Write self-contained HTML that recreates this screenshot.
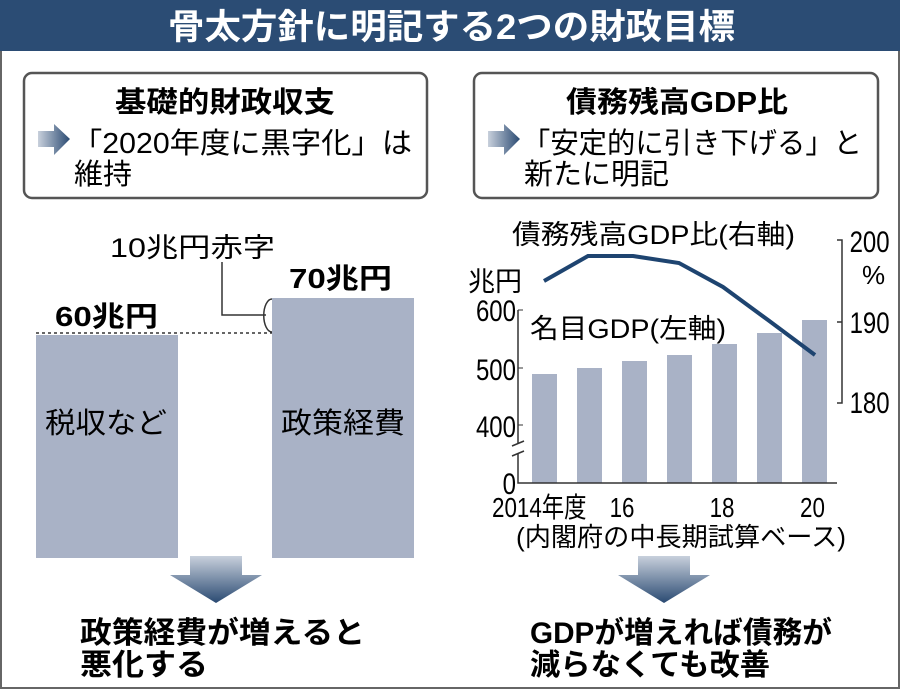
<!DOCTYPE html>
<html><head><meta charset="utf-8"><style>
body{margin:0;width:900px;height:689px;background:#fff;overflow:hidden;font-family:"Liberation Sans","Noto Sans CJK JP",sans-serif;}
svg text{font-family:"Liberation Sans","Noto Sans CJK JP",sans-serif;}
</style></head><body>
<svg width="900" height="689" viewBox="0 0 900 689" xmlns="http://www.w3.org/2000/svg">
<defs>
<linearGradient id="ar" x1="0" x2="1"><stop offset="0" stop-color="#c8d0dc"/><stop offset="1" stop-color="#2a4a72"/></linearGradient>
<linearGradient id="dn" x1="0" x2="0" y1="0" y2="1"><stop offset="0" stop-color="#c8d0dc"/><stop offset="1" stop-color="#2a4a72"/></linearGradient>
</defs>
<rect x="1" y="1" width="898" height="687" fill="#fff" stroke="#666" stroke-width="2"/>
<rect x="0" y="0" width="900" height="51" fill="#2b4c74"/>
<text x="168" y="39" font-size="35" font-weight="bold" fill="#fff" textLength="567" lengthAdjust="spacingAndGlyphs">骨太方針に明記する2つの財政目標</text>

<rect x="24" y="73" width="403" height="125" rx="8" fill="#fff" stroke="#555" stroke-width="2.5"/>
<text x="115" y="112" font-size="29" font-weight="bold" textLength="220" lengthAdjust="spacingAndGlyphs">基礎的財政収支</text>
<polygon points="38,131 54,131 54,124 70,139 54,155 54,147 38,147" fill="url(#ar)"/>
<text x="72" y="153" font-size="29" textLength="340" lengthAdjust="spacingAndGlyphs">「2020年度に黒字化」は</text>
<text x="74" y="184" font-size="29">維持</text>

<rect x="474" y="73" width="404" height="125" rx="8" fill="#fff" stroke="#555" stroke-width="2.5"/>
<text x="566" y="112" font-size="29" font-weight="bold" textLength="222" lengthAdjust="spacingAndGlyphs">債務残高GDP比</text>
<polygon points="488,131 504,131 504,124 520,139 504,155 504,147 488,147" fill="url(#ar)"/>
<text x="522" y="153" font-size="29" textLength="340" lengthAdjust="spacingAndGlyphs">「安定的に引き下げる」と</text>
<text x="524" y="184" font-size="29">新たに明記</text>

<!-- left chart -->
<text x="110" y="257" font-size="27" textLength="165" lengthAdjust="spacingAndGlyphs">10兆円赤字</text>
<polyline points="222,262 222,315 266,315" fill="none" stroke="#333" stroke-width="1.5"/>
<path d="M272,299 A8,16 0 0 0 272,332" fill="none" stroke="#333" stroke-width="1.5"/>
<text x="289" y="288" font-size="28" font-weight="bold" textLength="103" lengthAdjust="spacingAndGlyphs">70兆円</text>
<text x="55" y="326" font-size="28" font-weight="bold" textLength="103" lengthAdjust="spacingAndGlyphs">60兆円</text>
<line x1="36" y1="333" x2="272" y2="333" stroke="#333" stroke-width="1.5" stroke-dasharray="3,3"/>
<rect x="36" y="335" width="142" height="223" fill="#a9b2c6"/>
<rect x="272" y="298" width="142" height="260" fill="#a9b2c6"/>
<text x="45" y="433" font-size="29" textLength="122" lengthAdjust="spacingAndGlyphs">税収など</text>
<text x="281" y="433" font-size="29" textLength="124" lengthAdjust="spacingAndGlyphs">政策経費</text>
<polygon points="190,556 242,556 242,575 262,575 216,603 170,575 190,575" fill="url(#dn)"/>
<text x="80" y="643" font-size="30" font-weight="bold" textLength="285" lengthAdjust="spacingAndGlyphs">政策経費が増えると</text>
<text x="80" y="675" font-size="30" font-weight="bold" textLength="128" lengthAdjust="spacingAndGlyphs">悪化する</text>

<!-- right chart -->
<text x="512" y="244" font-size="27" textLength="283" lengthAdjust="spacingAndGlyphs">債務残高GDP比(右軸)</text>
<text x="468" y="291" font-size="27">兆円</text>
<g font-size="30" text-anchor="end" transform="scale(0.8,1)">
<text x="645" y="321">600</text>
<text x="645" y="380">500</text>
<text x="645" y="437">400</text>
<text x="645" y="494">0</text>
</g>
<g fill="#a9b2c6">
<rect x="532" y="374" width="25" height="109"/>
<rect x="577" y="368" width="25" height="115"/>
<rect x="622" y="361" width="25" height="122"/>
<rect x="667" y="355" width="25" height="128"/>
<rect x="712" y="344" width="25" height="139"/>
<rect x="757" y="333" width="25" height="150"/>
<rect x="802" y="320" width="25" height="163"/>
</g>
<polyline points="518,310 518,443" fill="none" stroke="#333" stroke-width="1.5"/>
<polyline points="518,453 518,483 837,483" fill="none" stroke="#333" stroke-width="1.5"/>
<line x1="512" y1="446" x2="524" y2="441" stroke="#333" stroke-width="1.5"/>
<line x1="512" y1="456" x2="524" y2="451" stroke="#333" stroke-width="1.5"/>
<line x1="518" y1="310" x2="523" y2="310" stroke="#333"/>
<line x1="518" y1="368" x2="523" y2="368" stroke="#333"/>
<line x1="518" y1="425" x2="523" y2="425" stroke="#333"/>
<text x="530" y="338" font-size="27" textLength="196" lengthAdjust="spacingAndGlyphs">名目GDP(左軸)</text>
<polyline points="544,281 588,256 633,256 679,263 723,287 768,320 815,355" fill="none" stroke="#1e4470" stroke-width="4"/>
<polyline points="837,240 842,240 842,403 837,403" fill="none" stroke="#333" stroke-width="1.5"/>
<line x1="837" y1="322" x2="842" y2="322" stroke="#333" stroke-width="1.5"/>
<g font-size="30" transform="scale(0.8,1)">
<text x="1062" y="252">200</text>
<text x="1062" y="333">190</text>
<text x="1062" y="413">180</text>
</g>
<text x="862" y="284" font-size="26">%</text>
<g font-size="28" transform="scale(0.8,1)">
<text x="615" y="517">2014年度</text>
<text x="762" y="517">16</text>
<text x="887" y="517">18</text>
<text x="1000" y="517">20</text>
</g>
<text x="516" y="546" font-size="26" textLength="330" lengthAdjust="spacingAndGlyphs">(内閣府の中長期試算ベース)</text>
<polygon points="638,556 690,556 690,575 710,575 664,603 618,575 638,575" fill="url(#dn)"/>
<text x="530" y="643" font-size="30" font-weight="bold" textLength="302" lengthAdjust="spacingAndGlyphs">GDPが増えれば債務が</text>
<text x="530" y="675" font-size="30" font-weight="bold" textLength="240" lengthAdjust="spacingAndGlyphs">減らなくても改善</text>
</svg>
</body></html>
